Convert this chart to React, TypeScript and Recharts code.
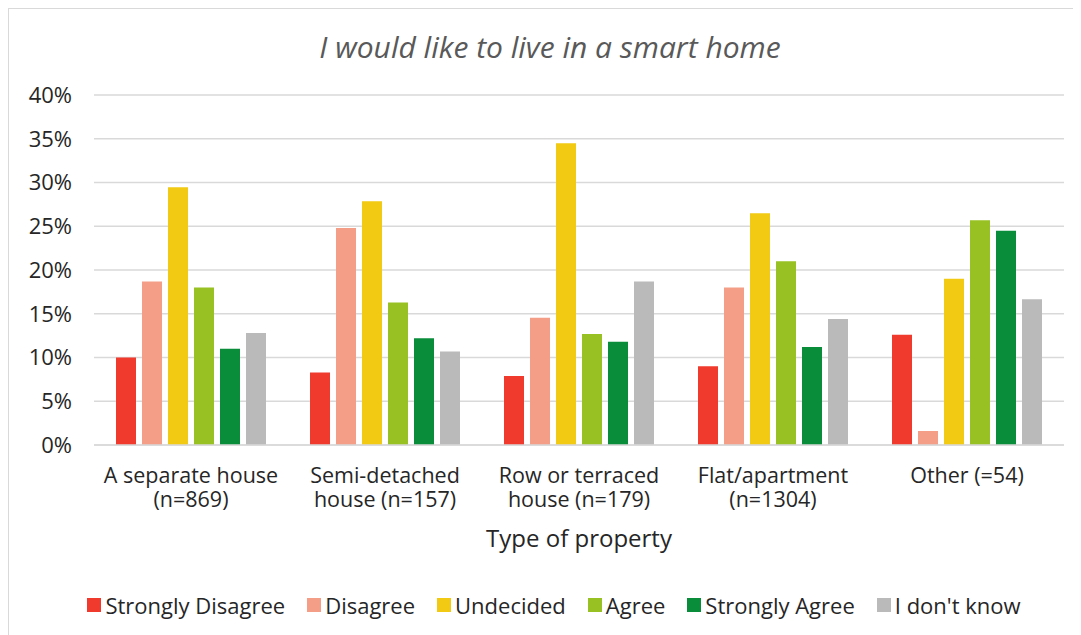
import { BarChart, Bar, XAxis, YAxis, CartesianGrid } from "recharts";

const categories = [
  "A separate house\n(n=869)",
  "Semi-detached\nhouse (n=157)",
  "Row or terraced\nhouse (n=179)",
  "Flat/apartment\n(n=1304)",
  "Other (=54)",
];

const stronglyDisagree = [10.0, 8.3, 7.9, 9.0, 12.6];
const disagree = [18.7, 24.8, 14.55, 18.0, 1.6];
const undecided = [29.45, 27.85, 34.5, 26.5, 19.0];
const agree = [18.0, 16.3, 12.7, 21.0, 25.7];
const stronglyAgree = [11.0, 12.2, 11.8, 11.2, 24.5];
const dontKnow = [12.8, 10.7, 18.7, 14.4, 16.65];

const yTicks = [0, 5, 10, 15, 20, 25, 30, 35, 40];

const series = [
  { key: "sd", name: "Strongly Disagree", color: "#f03a2e", values: stronglyDisagree },
  { key: "d", name: "Disagree", color: "#f49d87", values: disagree },
  { key: "u", name: "Undecided", color: "#f2ca14", values: undecided },
  { key: "a", name: "Agree", color: "#98c224", values: agree },
  { key: "sa", name: "Strongly Agree", color: "#0a8d3a", values: stronglyAgree },
  { key: "idk", name: "I don't know", color: "#bababa", values: dontKnow },
];

const data = categories.map((c, i) => {
  const row: Record<string, string | number> = { category: c };
  series.forEach((s) => (row[s.key] = s.values[i]));
  return row;
});

const FONT = "'Open Sans', sans-serif";
const TEXT = "#262626";

function CategoryTick({ x, y, payload }: any) {
  const lines = String(payload.value).split("\n");
  return (
    <text x={x} y={y} textAnchor="middle" fill={TEXT} fontSize={21.5} fontFamily={FONT}>
      {lines.map((l, i) => (
        <tspan key={i} x={x} dy={i === 0 ? 30 : 24}>
          {l}
        </tspan>
      ))}
    </text>
  );
}

function ChartLegend() {
  return (
    <div
      style={{
        position: "absolute",
        top: 581,
        left: 9,
        width: 1072,
        display: "flex",
        justifyContent: "center",
        fontFamily: FONT,
        fontSize: 22,
        color: TEXT,
        lineHeight: "30px",
      }}
    >
      {series.map((s, i) => (
        <div key={s.key} style={{ display: "flex", alignItems: "center", marginLeft: i === 0 ? 0 : 22 }}>
          <span style={{ width: 14, height: 14, background: s.color, marginRight: 4, display: "inline-block" }} />
          <span>{s.name}</span>
        </div>
      ))}
    </div>
  );
}

export default function App() {
  return (
    <div
      style={{
        position: "relative",
        width: 1073,
        height: 627,
        borderTop: "1px solid #d9d9d9",
        borderLeft: "1px solid #d9d9d9",
        boxSizing: "border-box",
        background: "#fff",
        overflow: "hidden",
      }}
    >
      <div
        style={{
          position: "absolute",
          top: 17,
          left: 0,
          width: 1082,
          textAlign: "center",
          fontFamily: FONT,
          fontStyle: "italic",
          fontSize: 30,
          lineHeight: "41px",
          color: "#595959",
        }}
      >
        I would like to live in a smart home
      </div>
      <BarChart
        width={1072}
        height={626}
        data={data}
        margin={{ top: 86, right: 17, bottom: 0, left: 0 }}
        barSize={20}
        barGap={6}
      >
        <CartesianGrid vertical={false} stroke="#d9d9d9" strokeWidth={1.5} />
        <XAxis
          dataKey="category"
          tick={<CategoryTick />}
          tickLine={false}
          axisLine={{ stroke: "#d9d9d9", strokeWidth: 1.5 }}
          interval={0}
          height={190}
          label={{
            value: "Type of property",
            position: "insideTop",
            offset: 85,
            fill: TEXT,
            fontSize: 24,
            fontFamily: FONT,
          }}
        />
        <YAxis
          domain={[0, 40]}
          ticks={yTicks}
          tickFormatter={(v: number) => `${v}%`}
          tick={{ fill: TEXT, fontSize: 22, fontFamily: FONT }}
          tickLine={false}
          axisLine={false}
          tickMargin={16}
          width={85}
          interval={0}
        />
        {series.map((s) => (
          <Bar key={s.key} dataKey={s.key} name={s.name} fill={s.color} isAnimationActive={false} />
        ))}
      </BarChart>
      <ChartLegend />
    </div>
  );
}
